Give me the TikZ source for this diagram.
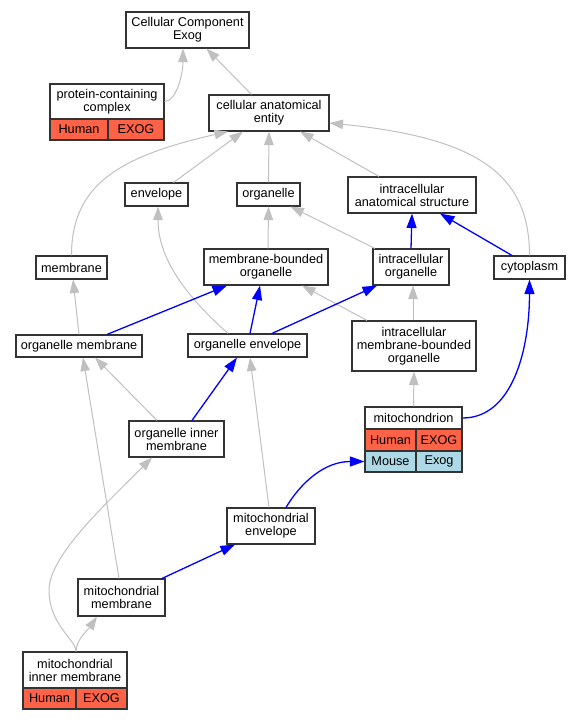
\documentclass[tikz,border=0pt]{standalone}
\usepackage{fontspec}
\setmainfont{Liberation Sans}
\usetikzlibrary{arrows.meta,positioning}

\definecolor{tomato}{HTML}{FF6347}
\definecolor{lblue}{HTML}{ADD8E6}
\definecolor{edgegray}{HTML}{C0C0C0}

\begin{document}
\begin{tikzpicture}[
    x=1pt, y=-1pt,
    term/.style={draw=black!80, line width=1.1pt, fill=white, align=center, inner sep=0pt, font=\fontsize{12.7}{13}\selectfont},
    human/.style={term, fill=tomato},
    mouse/.style={term, fill=lblue},
    isa/.style={edgegray, line width=1pt, -{Triangle[length=13.5pt, width=9.5pt]}},
    partof/.style={blue, line width=1.3pt, -{Triangle[length=14.5pt, width=10pt]}}
]
\useasboundingbox (0,0) rectangle (580,720);

% Terms, top to bottom
\node[term, minimum width=123, minimum height=36] (cc) at (187.5,30) {Cellular Component\\Exog};
\node[term, minimum width=114, minimum height=35] (pcc) at (107,101.5) {protein-containing\\complex};
\node[human, minimum width=58, minimum height=21] (pccH) at (79,129.5) {Human};
\node[human, minimum width=56, minimum height=21] (pccE) at (136,129.5) {EXOG};
\node[term, minimum width=120, minimum height=36] (cae) at (269,113) {cellular anatomical\\entity};

\node[term, minimum width=63, minimum height=23] (env) at (156.5,194.5) {envelope};
\node[term, minimum width=63, minimum height=23] (org) at (268.5,194.5) {organelle};
\node[term, minimum width=128, minimum height=36] (ias) at (412,195) {intracellular\\anatomical structure};

\node[term, minimum width=71, minimum height=23] (mem) at (71.5,267.5) {membrane};
\node[term, minimum width=124, minimum height=36] (mbo) at (266,267) {membrane-bounded\\organelle};
\node[term, minimum width=76, minimum height=36] (io) at (411,267) {intracellular\\organelle};
\node[term, minimum width=71, minimum height=23] (cyto) at (529.5,267.5) {cytoplasm};

\node[term, minimum width=126, minimum height=22] (om) at (79,346) {organelle membrane};
\node[term, minimum width=119, minimum height=23] (oe) at (247.5,345.5) {organelle envelope};
\node[term, minimum width=124, minimum height=50] (imbo) at (414,346) {intracellular\\membrane-bounded\\organelle};

\node[term, minimum width=95, minimum height=36] (oim) at (176.5,439) {organelle inner\\membrane};
\node[term, minimum width=97, minimum height=22] (mito) at (413.5,418) {mitochondrion};
\node[human, minimum width=51, minimum height=22] (mitoH) at (390.5,440) {Human};
\node[human, minimum width=46, minimum height=22] (mitoE) at (439,440) {EXOG};
\node[mouse, minimum width=51, minimum height=21] (mitoM) at (390.5,461.5) {Mouse};
\node[mouse, minimum width=46, minimum height=21] (mitoX) at (439,461.5) {Exog};

\node[term, minimum width=88, minimum height=36] (menv) at (271,526) {mitochondrial\\envelope};
\node[term, minimum width=87, minimum height=37] (mmem) at (121.5,597.5) {mitochondrial\\membrane};
\node[term, minimum width=104, minimum height=36] (mim) at (75,670) {mitochondrial\\inner membrane};
\node[human, minimum width=53, minimum height=21] (mimH) at (49.5,698.5) {Human};
\node[human, minimum width=51, minimum height=21] (mimE) at (101.5,698.5) {EXOG};

% is_a edges
\draw[isa] (pcc.east) .. controls +(12,0) and +(0,25) .. ([xshift=-4.5]cc.south);
\draw[isa] ([xshift=-17.5]cae.north) -- ([xshift=19]cc.south);
\draw[isa] (mem.north) .. controls +(0,-70) and +(-110,25) .. ([xshift=-41]cae.south);
\draw[isa] ([xshift=17]env.north) -- ([xshift=-26]cae.south);
\draw[isa] (org.north) -- (cae.south);
\draw[isa] ([xshift=-33]ias.north) -- ([xshift=31]cae.south);
\draw[isa] (cyto.north) .. controls +(0,-80) and +(150,15) .. ([yshift=-10]cae.east);
\draw[isa] ([xshift=2]mbo.north) -- (org.south);
\draw[isa] ([xshift=-36]io.north) -- ([xshift=22]org.south);
\draw[isa] (om.north) -- ([xshift=1.5]mem.south);
\draw[isa] ([xshift=-19.5]oe.north) .. controls +(-45,-40) and +(0,50) .. ([xshift=1.5]env.south);
\draw[isa] ([xshift=-47]imbo.north) -- ([xshift=36]mbo.south);
\draw[isa] ([xshift=-1]imbo.north) -- ([xshift=2]io.south);
\draw[isa] (mito.north) -- (imbo.south);
\draw[isa] ([xshift=-19.5]oim.north) -- ([xshift=16]om.south);
\draw[isa] ([xshift=-2]menv.north) -- ([xshift=2.5]oe.south);
\draw[isa] ([xshift=-2.5]mmem.north) -- ([xshift=4]om.south);
\draw[isa] ([xshift=1]mim.north) .. controls +(0,-12) and +(-8,12) .. ([xshift=-24.5]mmem.south);
\draw[isa] ([xshift=1]mim.north) .. controls +(0,-12) and (49,625) .. (49,590) .. controls (49,555) and (110,500) .. ([xshift=-24.5]oim.south);

% part_of edges
\draw[partof] (io.north) -- (ias.south);
\draw[partof] ([xshift=-17.5]cyto.north) -- ([xshift=28]ias.south);
\draw[partof] ([xshift=28]om.north) -- ([xshift=-39]mbo.south);
\draw[partof] ([xshift=2.5]oe.north) -- ([xshift=-6]mbo.south);
\draw[partof] ([xshift=24.5]oe.north) -- ([xshift=-34]io.south);
\draw[partof] (mito.east) .. controls +(50,0) and +(0,70) .. (cyto.south);
\draw[partof] ([xshift=15.5]oim.north) -- ([xshift=-10.5]oe.south);
\draw[partof] ([xshift=15]menv.north) .. controls +(15,-25) and +(-40,0) .. (mitoM.west);
\draw[partof] ([xshift=40.5]mmem.north) -- ([xshift=-36]menv.south);

\end{tikzpicture}
\end{document}
